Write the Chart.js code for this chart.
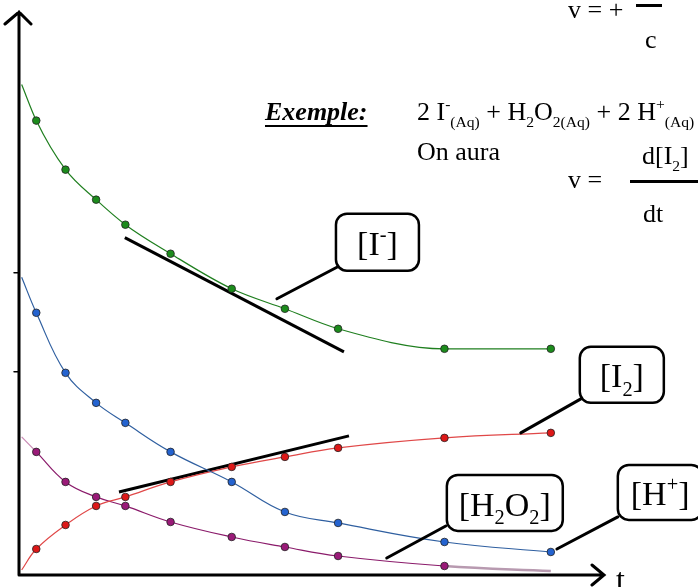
<!DOCTYPE html>
<html>
<head>
<meta charset="utf-8">
<script src="https://cdn.jsdelivr.net/npm/chart.js@4.4.0/dist/chart.umd.min.js"></script>
<style>
  html, body { margin: 0; padding: 0; background: #fff; }
  #wrap { width: 698px; height: 587px; }
</style>
</head>
<body>
<div id="wrap"><canvas id="kinChart" width="698" height="587"></canvas></div>
<script>
// sampling times (arbitrary units)
const times = [0.65, 1.75, 2.9, 4, 5.7, 8, 10, 12, 16, 20];
const startTime = 0.1;

// concentrations (arbitrary units) - first value is the curve start at t ~ 0, no marker
const iodide   = [19.6, 18.16, 16.2, 15.0, 14.0, 12.84, 11.44, 10.64, 9.84, 9.04, 9.04];
const hydrogen = [11.9, 10.48, 8.08, 6.88, 6.08, 4.92, 3.72, 2.52, 2.08, 1.32, 0.92];
const iodine   = [0.2, 1.04, 2.0, 2.76, 3.12, 3.72, 4.32, 4.72, 5.08, 5.48, 5.68];
const peroxide = [5.52, 4.92, 3.72, 3.12, 2.76, 2.12, 1.52, 1.12, 0.76, 0.36, 0.16];

// tangent lines [t0, v0, t1, v1]
const tangentIodide = [3.98, 13.48, 12.22, 8.92];
const tangentIodine = [3.76, 3.32, 12.41, 5.56];

// small marks on the concentration axis
const yTickMarks = [12.08, 8.12];

// callouts: label pieces, box [t0, v0, t1, v1], leader [t0, v0, t1, v1]
const calloutLabels = [
  [['[I', ''], ['-', 'sup'], [']', '']],
  [['[I', ''], ['2', 'sub'], [']', '']],
  [['[H', ''], ['2', 'sub'], ['O', ''], ['2', 'sub'], [']', '']],
  [['[H', ''], ['+', 'sup'], [']', '']]
];
const calloutBoxes = [
  [11.92, 14.44, 15.04, 12.16],
  [21.09, 9.12, 24.25, 6.88],
  [16.09, 4.0, 20.45, 1.76],
  [22.52, 4.4, 25.7, 2.2]
];
const calloutLeaders = [
  [11.99, 12.32, 9.70, 11.04],
  [21.13, 7.04, 18.87, 5.68],
  [16.05, 1.96, 13.83, 0.68],
  [22.52, 2.32, 20.23, 1.04]
];

function points(vals) {
  return vals.map((v, i) => ({ x: i === 0 ? startTime : times[i - 1], y: v }));
}
function markers(vals, hideLast) {
  return vals.map((v, i) => (i === 0 || (hideLast && i === vals.length - 1)) ? 0 : 3.8);
}
function curve(label, vals, line, fill, hideLast) {
  return {
    label: label,
    data: points(vals),
    showLine: true,
    borderColor: line,
    borderWidth: 1.2,
    backgroundColor: fill,
    pointBackgroundColor: fill,
    pointBorderColor: '#222',
    pointBorderWidth: 0.8,
    pointRadius: markers(vals, hideLast),
    tension: 0.4,
    clip: false
  };
}
function tangent(seg) {
  return {
    label: 'tangent',
    data: [{ x: seg[0], y: seg[1] }, { x: seg[2], y: seg[3] }],
    showLine: true,
    borderColor: '#000',
    borderWidth: 3,
    pointRadius: 0,
    clip: false
  };
}

const serif = '"Liberation Serif", "Times New Roman", serif';

function drawRich(ctx, x, y, parts, size, style) {
  for (const [txt, mode] of parts) {
    const fs = mode ? size * 0.6 : size;
    const dy = mode === 'sub' ? size * 0.25 : (mode === 'sup' ? -size * 0.42 : 0);
    ctx.font = (style || '') + ' ' + fs + 'px ' + serif;
    ctx.fillText(txt, x, y + dy);
    x += ctx.measureText(txt).width;
  }
  return x;
}
function richWidth(ctx, parts, size) {
  let w = 0;
  for (const [txt, mode] of parts) {
    ctx.font = (mode ? size * 0.6 : size) + 'px ' + serif;
    w += ctx.measureText(txt).width;
  }
  return w;
}
function roundRect(ctx, x, y, w, h, r) {
  ctx.beginPath();
  ctx.moveTo(x + r, y);
  ctx.arcTo(x + w, y, x + w, y + h, r);
  ctx.arcTo(x + w, y + h, x, y + h, r);
  ctx.arcTo(x, y + h, x, y, r);
  ctx.arcTo(x, y, x + w, y, r);
  ctx.closePath();
}

const sketch = {
  id: 'sketch',
  beforeDatasetsDraw(chart) {
    const ctx = chart.ctx, xs = chart.scales.x, ys = chart.scales.y;
    const x0 = xs.getPixelForValue(0), y0 = ys.getPixelForValue(0);
    const xEnd = xs.getPixelForValue(xs.max), yTop = ys.getPixelForValue(ys.max);
    ctx.save();
    ctx.strokeStyle = '#000';
    ctx.lineWidth = 3;
    ctx.lineCap = 'round';
    ctx.beginPath();
    ctx.moveTo(x0, y0); ctx.lineTo(x0, yTop);
    ctx.moveTo(x0 - 14, yTop + 12); ctx.lineTo(x0, yTop); ctx.lineTo(x0 + 12, yTop + 12);
    ctx.moveTo(x0, y0); ctx.lineTo(xEnd, y0);
    ctx.moveTo(xEnd - 12, y0 - 10); ctx.lineTo(xEnd, y0); ctx.lineTo(xEnd - 12, y0 + 10);
    ctx.stroke();
    ctx.lineWidth = 1.5;
    for (const v of yTickMarks) {
      const py = ys.getPixelForValue(v);
      ctx.beginPath(); ctx.moveTo(x0 - 5, py); ctx.lineTo(x0, py); ctx.stroke();
    }
    ctx.fillStyle = '#000';
    ctx.font = '32px ' + serif;
    ctx.fillText('t', xEnd + 12, y0 + 15);
    ctx.restore();
  },
  afterDraw(chart) {
    const ctx = chart.ctx, xs = chart.scales.x, ys = chart.scales.y;
    const px = t => xs.getPixelForValue(t), py = v => ys.getPixelForValue(v);
    ctx.save();
    ctx.strokeStyle = '#000';
    ctx.fillStyle = '#000';
    ctx.lineCap = 'round';
    // callouts
    calloutBoxes.forEach((b, i) => {
      const l = calloutLeaders[i];
      ctx.lineWidth = 3;
      ctx.beginPath(); ctx.moveTo(px(l[0]), py(l[1])); ctx.lineTo(px(l[2]), py(l[3])); ctx.stroke();
      const bx = px(b[0]), by = py(b[1]), bw = px(b[2]) - bx, bh = py(b[3]) - by;
      ctx.fillStyle = '#fff';
      roundRect(ctx, bx, by, bw, bh, 11);
      ctx.fill();
      ctx.lineWidth = 2.5;
      ctx.stroke();
      ctx.fillStyle = '#000';
      const size = 34;
      const w = richWidth(ctx, calloutLabels[i], size);
      drawRich(ctx, bx + (bw - w) / 2, by + bh / 2 + size * 0.37, calloutLabels[i], size);
    });
    // text block
    const fs = 26;
    ctx.textBaseline = 'alphabetic';
    drawRich(ctx, 568, 18, [['v = +', '']], fs);
    ctx.fillRect(636, 4, 26, 3);
    drawRich(ctx, 645, 48, [['c', '']], fs);
    const ex = drawRich(ctx, 265, 120, [['Exemple:', '']], fs, 'italic bold');
    ctx.fillRect(265, 125, ex - 265, 2);
    drawRich(ctx, 417, 120, [
      ['2 I', ''], ['-', 'sup'], ['(Aq)', 'sub'], [' + H', ''], ['2', 'sub'], ['O', ''],
      ['2(Aq)', 'sub'], [' + 2 H', ''], ['+', 'sup'], ['(Aq)', 'sub']
    ], fs);
    drawRich(ctx, 417, 160, [['On aura', '']], fs);
    drawRich(ctx, 642, 164, [['d[I', ''], ['2', 'sub'], [']', '']], fs);
    drawRich(ctx, 568, 188, [['v =', '']], fs);
    ctx.fillRect(630, 180, 70, 3);
    drawRich(ctx, 643, 222, [['dt', '']], fs);
    ctx.restore();
  }
};

const ctx = document.getElementById('kinChart').getContext('2d');
new Chart(ctx, {
  type: 'scatter',
  data: {
    datasets: [
      Object.assign(curve('[I-]', iodide, '#1f7f1f', '#1c8c1c', false), { cubicInterpolationMode: 'monotone' }),
      curve('[H+]', hydrogen, '#2f5fa0', '#2463d0', false),
      curve('[I2]', iodine, '#e04848', '#dd1818', false),
      Object.assign(curve('[H2O2]', peroxide, '#8a1a6a', '#9a1a78', true), {
        segment: {
          borderColor: c => c.p0DataIndex === 0 ? '#c98ab4' : (c.p0DataIndex >= 9 ? '#b89ab0' : undefined),
          borderWidth: c => c.p0DataIndex >= 9 ? 2.5 : undefined
        }
      }),
      tangent(tangentIodide),
      tangent(tangentIodine)
    ]
  },
  options: {
    responsive: false,
    animation: false,
    layout: { padding: { left: 19, top: 12, right: 94, bottom: 12 } },
    plugins: { legend: { display: false }, tooltip: { enabled: false } },
    scales: {
      x: { type: 'linear', min: 0, max: 22, display: false },
      y: { type: 'linear', min: 0, max: 22.5, display: false }
    }
  },
  plugins: [sketch]
});
</script>
</body>
</html>
